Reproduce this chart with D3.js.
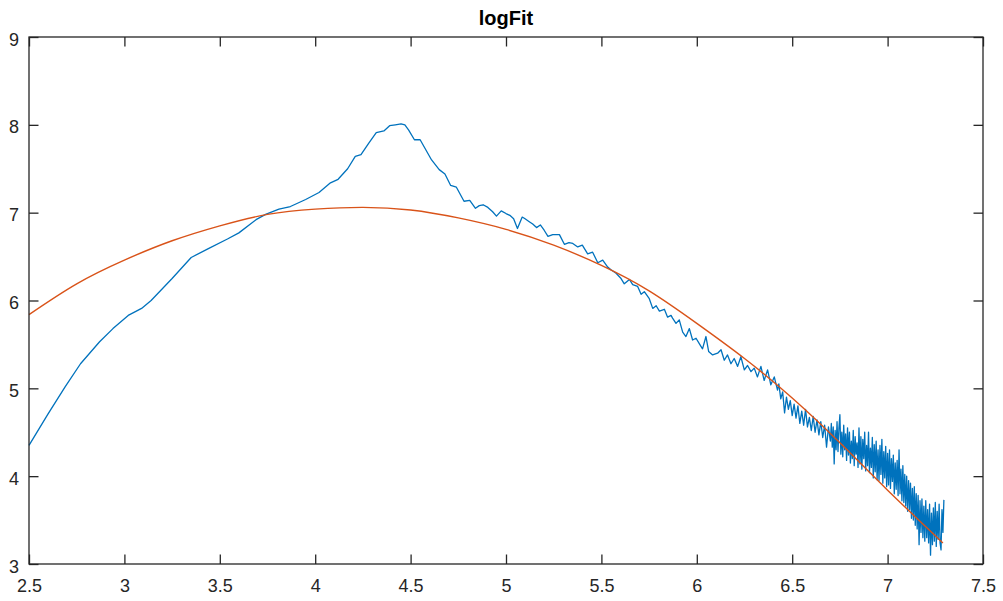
<!DOCTYPE html>
<html>
<head>
<meta charset="utf-8">
<script src="https://cdn.jsdelivr.net/npm/d3@7"></script>
<style>
  body { margin: 0; background: #fff; }
  svg { display: block; font-family: "Liberation Sans", Arial, sans-serif; }
</style>
</head>
<body>
<svg width="1003" height="601"></svg>
<script>
// chart title and tick labels
var title = 'logFit';
var xTicks = [2.5, 3, 3.5, 4, 4.5, 5, 5.5, 6, 6.5, 7, 7.5];
var yTicks = [3, 4, 5, 6, 7, 8, 9];

var dataX = [2.50,2.60,2.69,2.77,2.87,2.94,3.02,3.09,3.14,3.25,3.35,3.44,3.54,3.60,3.69,3.74,3.81,3.87,3.95,4.02,
  4.08,4.12,4.17,4.21,4.24,4.28,4.32,4.36,4.39,4.42,4.45,4.47,4.49,4.52,4.55,4.61,4.65,4.68,4.71,4.74,
  4.78,4.81,4.84,4.86,4.88,4.905,4.93,4.95,4.975,5.00,5.02,5.04,5.06,5.085,5.10,5.12,5.14,5.16,5.18,5.20,
  5.22,5.245,5.28,5.306,5.33,5.35,5.376,5.40,5.428,5.454,5.481,5.507,5.533,5.55,5.577,5.603,5.62,5.647,5.664,5.69,
  5.70,5.708,5.725,5.751,5.769,5.787,5.804,5.83,5.847,5.865,5.873,5.891,5.908,5.926,5.943,5.961,5.978,5.996,
  6.013,6.03,6.048,6.062,6.083,6.109,6.127,6.144,6.161,6.179,6.196,6.214,6.231,6.249,6.266,6.284,6.301,6.318,6.336,6.353,
  6.371,6.388,6.406,6.423,
  6.43,6.44,6.45,6.46,6.47,6.48,6.49,6.50,6.51,6.52,6.53,6.54,6.55,6.56,6.57,6.58,6.59,6.60,6.61,6.62,
  6.63,6.64,6.65,6.66,6.67,6.68,6.69,
  6.700,6.705,6.710,6.715,6.720,6.725,6.730,6.735,6.740,6.745,
  6.750,6.755,6.760,6.765,6.770,6.775,6.780,6.785,6.790,6.795,
  6.800,6.805,6.810,6.815,6.820,6.825,6.830,6.835,6.840,6.845,
  6.850,6.855,6.860,6.865,6.870,6.875,6.880,6.885,6.890,6.895,
  6.900,6.905,6.910,6.915,6.920,6.925,6.930,6.935,6.940,6.945,
  6.950,6.955,6.960,6.965,6.970,6.975,6.980,6.985,6.990,6.995,
  7.000,7.005,7.010,7.015,7.020,7.025,7.030,7.035,7.040,7.045,
  7.050,7.055,7.060,7.065,7.070,7.075,7.080,7.085,7.090,7.095,
  7.100,7.105,7.110,7.115,7.120,7.125,7.130,7.135,7.140,7.145,
  7.150,7.155,7.160,7.165,7.170,7.175,7.180,7.185,7.190,7.195,
  7.200,7.205,7.210,7.215,7.220,7.225,7.230,7.235,7.240,7.245,
  7.250,7.255,7.260,7.265,7.270,7.275,7.280,7.285,7.290,7.295];
var dataY = [4.35,4.71,5.02,5.28,5.53,5.68,5.83,5.91,6.00,6.25,6.49,6.59,6.70,6.77,6.92,6.98,7.04,7.07,7.15,7.23,
  7.34,7.38,7.50,7.64,7.66,7.79,7.91,7.93,7.99,8.00,8.01,8.00,7.94,7.83,7.83,7.60,7.49,7.44,7.31,7.29,
  7.13,7.14,7.05,7.08,7.09,7.06,7.01,6.96,7.02,6.99,6.97,6.93,6.82,6.95,6.93,6.90,6.87,6.83,6.86,6.80,
  6.73,6.75,6.75,6.64,6.66,6.65,6.61,6.63,6.53,6.55,6.43,6.46,6.38,6.35,6.31,6.25,6.19,6.24,6.18,6.16,
  6.11,6.07,6.10,6.02,5.91,5.94,5.88,5.90,5.81,5.83,5.80,5.74,5.78,5.64,5.59,5.68,5.55,5.57,
  5.51,5.45,5.59,5.42,5.38,5.40,5.44,5.32,5.38,5.28,5.34,5.25,5.36,5.21,5.26,5.19,5.23,5.13,5.25,5.09,
  5.21,5.04,5.13,4.98,
  5.05,4.88,4.96,4.72,4.90,4.76,4.86,4.69,4.82,4.66,4.80,4.60,4.74,4.58,4.76,4.56,4.67,4.52,4.68,4.50,
  4.64,4.47,4.62,4.44,4.58,4.33,4.56,
  4.40,4.60,4.33,4.56,4.14,4.52,4.30,4.62,4.28,4.55,
  4.70,4.25,4.50,4.22,4.58,4.30,4.48,4.18,4.55,4.24,
  4.50,4.15,4.40,4.20,4.52,4.12,4.45,4.25,4.38,4.10,
  4.55,4.14,4.45,4.08,4.42,4.20,4.50,4.06,4.35,4.12,
  4.50,4.04,4.32,4.10,4.44,3.98,4.36,4.05,4.40,3.96,
  4.30,3.95,4.35,4.02,4.42,3.92,4.28,3.98,4.34,3.88,
  4.26,3.90,4.30,3.86,4.20,3.94,4.24,3.80,4.15,3.85,
  4.18,3.78,4.30,3.80,4.08,3.72,4.12,3.70,4.02,3.66,
  4.00,3.60,3.95,3.62,3.92,3.52,3.86,3.50,3.88,3.44,
  3.80,3.40,3.78,3.22,3.72,3.36,3.74,3.30,3.66,3.26,
  3.72,3.30,3.62,3.24,3.68,3.10,3.58,3.22,3.64,3.26,
  3.70,3.20,3.60,3.28,3.68,3.24,3.16,3.62,3.36,3.73];

// fitted curve (orange)
var fitX = [2.5, 2.75, 3.0, 3.25, 3.5, 3.75, 4.0, 4.25, 4.5, 4.75, 5.0, 5.25, 5.5, 5.75, 6.0, 6.25, 6.5, 6.75, 7.0, 7.29];
var fitY = [5.84, 6.19, 6.46, 6.68, 6.85, 6.98, 7.04, 7.06, 7.03, 6.94, 6.81, 6.63, 6.40, 6.11, 5.74, 5.34, 4.89, 4.38, 3.84, 3.24];

var svg = d3.select('svg');
var margin = {left: 29, top: 37, right: 20, bottom: 37};
var W = 1003, H = 601;

var x = d3.scaleLinear().domain([2.5, 7.5]).range([margin.left, W - margin.right]);
var y = d3.scaleLinear().domain([3, 9]).range([H - margin.bottom, margin.top]);

var axisColor = '#262626';
var fmt = function(d) { return String(d); };

// bottom axis with labels
var gx = svg.append('g')
  .attr('transform', 'translate(0,' + y.range()[0] + ')')
  .call(d3.axisBottom(x).tickValues(xTicks).tickFormat(fmt).tickSizeInner(-9.5).tickSizeOuter(0).tickPadding(16));
// left axis with labels
var gy = svg.append('g')
  .attr('transform', 'translate(' + x.range()[0] + ',0)')
  .call(d3.axisLeft(y).tickValues(yTicks).tickFormat(fmt).tickSizeInner(-9.5).tickSizeOuter(0).tickPadding(10));
// top and right ticks, no labels
var gt = svg.append('g')
  .attr('transform', 'translate(0,' + y.range()[1] + ')')
  .call(d3.axisTop(x).tickValues(xTicks).tickFormat('').tickSizeInner(-9.5).tickSizeOuter(0));
var gr = svg.append('g')
  .attr('transform', 'translate(' + x.range()[1] + ',0)')
  .call(d3.axisRight(y).tickValues(yTicks).tickFormat('').tickSizeInner(-9.5).tickSizeOuter(0));

[gx, gy, gt, gr].forEach(function(g) {
  g.select('.domain').remove();
  g.selectAll('.tick line').attr('stroke', axisColor).attr('stroke-width', 1.3);
  g.selectAll('.tick text').attr('fill', axisColor).style('font-size', '18px');
});
gy.selectAll('.tick text').attr('dy', '0.45em');
gx.selectAll('.tick text').attr('dy', '0.68em');

// plot lines
var blue = dataX.map(function(d, i) { return [d, dataY[i]]; });
var orange = fitX.map(function(d, i) { return [d, fitY[i]]; });

var line = d3.line().x(function(d) { return x(d[0]); }).y(function(d) { return y(d[1]); });

svg.append('path')
  .datum(blue)
  .attr('d', line)
  .attr('fill', 'none')
  .attr('stroke', '#0072BD')
  .attr('stroke-width', 1.3)
  .attr('stroke-linejoin', 'round');

svg.append('path')
  .datum(orange)
  .attr('d', line.curve(d3.curveNatural))
  .attr('fill', 'none')
  .attr('stroke', '#D95319')
  .attr('stroke-width', 1.4);

// box
svg.append('rect')
  .attr('x', x.range()[0])
  .attr('y', y.range()[1])
  .attr('width', x.range()[1] - x.range()[0])
  .attr('height', y.range()[0] - y.range()[1])
  .attr('fill', 'none')
  .attr('stroke', axisColor)
  .attr('stroke-width', 1.3);

// title
svg.append('text')
  .attr('x', (x.range()[0] + x.range()[1]) / 2)
  .attr('y', 25)
  .attr('text-anchor', 'middle')
  .style('font-size', '20px')
  .style('font-weight', 'bold')
  .attr('fill', '#000')
  .text(title);
</script>
</body>
</html>
